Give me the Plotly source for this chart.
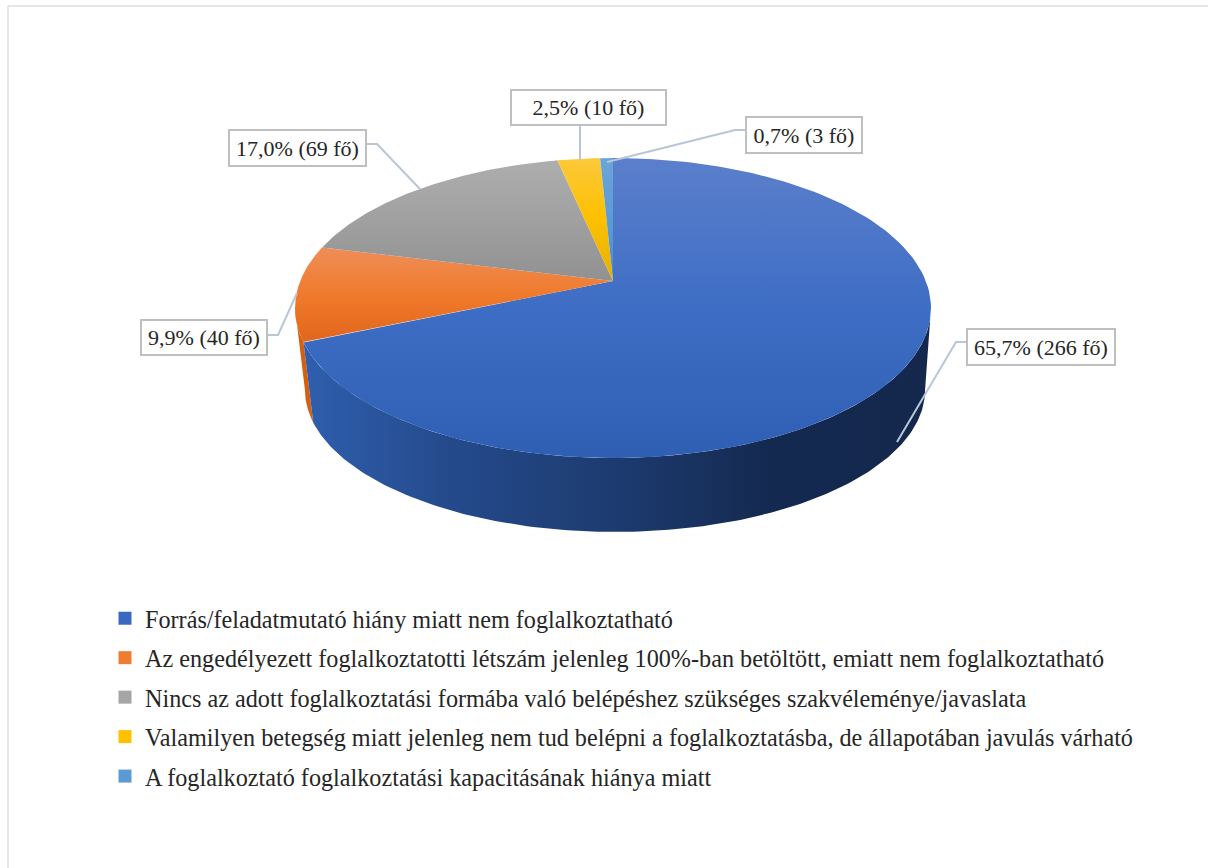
import math
import plotly.graph_objects as go

# ---- data -------------------------------------------------------------
categories = [
    "Forrás/feladatmutató hiány miatt nem foglalkoztatható",
    "Az engedélyezett foglalkoztatotti létszám jelenleg 100%-ban betöltött, emiatt nem foglalkoztatható",
    "Nincs az adott foglalkoztatási formába való belépéshez szükséges szakvéleménye/javaslata",
    "Valamilyen betegség miatt jelenleg nem tud belépni a foglalkoztatásba, de állapotában javulás várható",
    "A foglalkoztató foglalkoztatási kapacitásának hiánya miatt",
]
counts = [266, 40, 69, 10, 3]
percents = [65.7, 9.9, 17.0, 2.5, 0.7]
legend_colors = ["#3a68c0", "#ed7d31", "#a5a5a5", "#ffc000", "#5b9bd5"]
top_gradients = [
    ["#5b7fcb", "#3e6dc5", "#2f5fb3"],
    ["#ee8e58", "#f07a2c", "#e1651c"],
    ["#aeaeae", "#a0a0a0", "#919191"],
    ["#fcc93b", "#fdc000", "#e5b000"],
    ["#6ba5d9", "#5b9bd5", "#4a8ccb"],
]
side_stops = ["#2f5fae", "#24498a", "#1d3b70", "#14294f", "#14284e"]
orange_side = "#d4600f"

# ---- projection of the pie (pixel canvas) ------------------------------
W, H = 1208, 868
CX, AY = 613, 281     # apex of top face
BX = 615              # centre of the lower rim
K = 0.18              # perspective strength
TA, TB = 312.8, 145.1
BA, BB, BY = 305.0, 137.4, 364.4
FONT = "Liberation Serif"
TXT = "#262626"
LEAD = "#b8c6d8"


def pt(theta_deg, a, b, y0, cx):
    t = math.radians(theta_deg)
    u, v = math.sin(t), math.cos(t)
    d = 1 + K * v
    return cx + a * u / d, y0 - b * v / d


def arc(t0, t1, a, b, y0, cx, n=160):
    ps = [pt(t0 + (t1 - t0) * i / n, a, b, y0, cx) for i in range(n + 1)]
    return [p[0] for p in ps], [p[1] for p in ps]


total = sum(counts)
edges = [0.0]
for c in counts:
    edges.append(edges[-1] + 360.0 * c / total)

fig = go.Figure()


def scale(cols):
    return [[i / (len(cols) - 1), c] for i, c in enumerate(cols)]


# sides: each runs to the point where the rim turns out of sight
tangent = 180 - math.degrees(math.asin(math.sqrt(1 - K * K)))
ox0, oy0 = arc(edges[1], 360 - tangent, TA, TB, AY, CX)
ox1, oy1 = arc(edges[1], 360 - tangent, BA, BB, BY, BX)
fig.add_trace(go.Scatter(x=ox0 + ox1[::-1], y=oy0 + oy1[::-1], mode="lines", fill="toself",
                         fillcolor=orange_side, line=dict(width=0), showlegend=False, hoverinfo="skip"))
sx0, sy0 = arc(tangent, edges[1], TA, TB, AY, CX)
sx1, sy1 = arc(tangent, edges[1], BA, BB, BY, BX)
fig.add_trace(go.Scatter(x=sx0 + sx1[::-1], y=sy0 + sy1[::-1], mode="lines", fill="toself",
                         line=dict(width=0), showlegend=False, hoverinfo="skip",
                         fillgradient=dict(type="horizontal", start=300, stop=930,
                                           colorscale=scale(side_stops))))

# top faces
for i in range(len(counts)):
    ax, ay = arc(edges[i], edges[i + 1], TA, TB, AY, CX)
    xs, ys = [CX] + ax + [CX], [AY] + ay + [AY]
    fig.add_trace(go.Scatter(x=xs, y=ys, mode="lines", fill="toself", line=dict(width=0),
                             showlegend=False, name=categories[i], hoverinfo="name",
                             fillgradient=dict(type="vertical", start=min(ys), stop=max(ys),
                                               colorscale=scale(top_gradients[i]))))

# leader lines
leaders = [
    ([966, 956, 897], [342, 342, 442]),
    ([268, 278, 297], [335, 335, 293]),
    ([367, 377, 420], [144, 144, 189]),
    ([580, 580], [126, 160]),
    ([745, 735, 607], [130, 130, 162]),
]
for lx, ly in leaders:
    fig.add_trace(go.Scatter(x=lx, y=ly, mode="lines", line=dict(color=LEAD, width=2),
                             showlegend=False, hoverinfo="skip"))

# legend entries
for name, col in zip(categories, legend_colors):
    fig.add_trace(go.Scatter(x=[None], y=[None], mode="markers", name=name, legendgroup=name,
                             marker=dict(symbol="square", size=13, color=col)))

# labels
boxes = [(966, 1116, 328, 366), (140, 268, 319, 356), (228, 367, 129, 167),
         (510, 667, 89, 126), (745, 863, 116, 154)]
for p, n, (x0, x1, y0, y1) in zip(percents, counts, boxes):
    label = f"{p:.1f}%".replace(".", ",") + f" ({n} fő)"
    fig.add_annotation(x=(x0 + x1) / 2, y=(y0 + y1) / 2, text=label, showarrow=False,
                       width=x1 - x0 - 4, height=y1 - y0 - 4, xanchor="center", yanchor="middle",
                       bgcolor="white", bordercolor="#bfbfbf", borderwidth=2, borderpad=0,
                       font=dict(family=FONT, size=22, color=TXT))

# page frame
fig.add_shape(type="line", x0=8, x1=8, y0=6, y1=H, line=dict(color="#e3e6ec", width=2))
fig.add_shape(type="line", x0=8, x1=W, y0=6, y1=6, line=dict(color="#e3e6ec", width=2))

fig.update_layout(
    width=W, height=H, margin=dict(l=0, r=0, t=0, b=0),
    paper_bgcolor="white", plot_bgcolor="white",
    xaxis=dict(range=[0, W], visible=False, fixedrange=True),
    yaxis=dict(range=[H, 0], visible=False, fixedrange=True),
    font=dict(family=FONT, color=TXT),
    legend=dict(x=105 / W, y=1 - 596 / H, xanchor="left", yanchor="top",
                font=dict(family=FONT, size=24.2, color=TXT), tracegroupgap=5,
                bgcolor="rgba(0,0,0,0)", itemclick=False, itemdoubleclick=False),
)
fig.write_html("out.html", config={"displayModeBar": False},
               post_script="document.body.style.margin='0';document.body.style.overflow='hidden';")
